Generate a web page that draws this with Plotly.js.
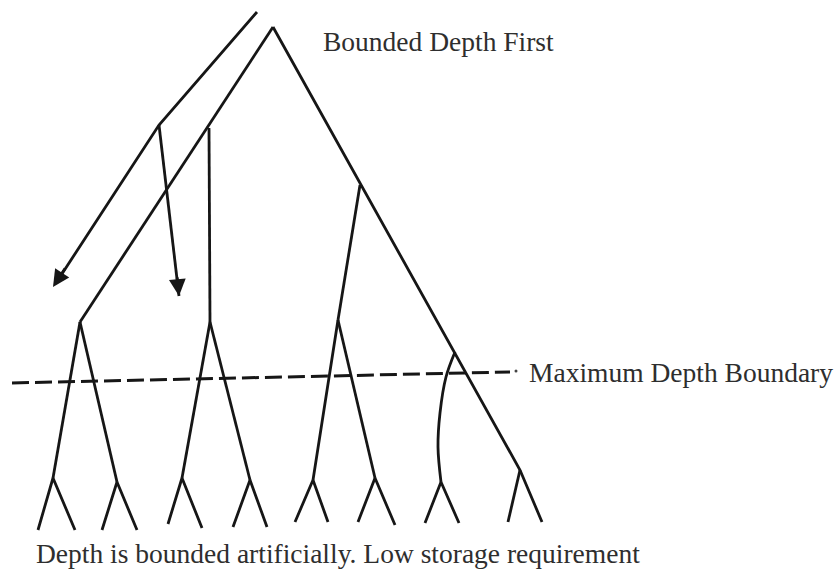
<!DOCTYPE html>
<html>
<head>
<meta charset="utf-8">
<script src="https://cdn.plot.ly/plotly-3.0.1.min.js"></script>
<style>html,body{margin:0;padding:0;background:#fff;}#chart{width:835px;height:569px;}</style>
</head>
<body>
<div id="chart"></div>
<script>
// Main trunks of the tree (pixel-like coordinates)
const trunkLeftX = [273, 80];
const trunkLeftY = [27, 322];
const trunkRightX = [273, 520, 542];
const trunkRightY = [27, 470, 522];

// Branch from left trunk (vertical) and right trunk
const branchX = [209, 210, null, 360, 338];
const branchY = [128, 322, null, 185, 320];

// Curved branch from right trunk
const curveX = [455, 446, 440, 438, 441];
const curveY = [352, 377, 413, 447, 482];

// Depth-2 nodes
const topNodeX = [80, 210, 338];
const topNodeY = [322, 322, 320];
// Depth-3 nodes and their parents (index into topNode, -1 = drawn elsewhere)
const midX = [53, 117, 182, 250, 313, 375, 441, 520];
const midY = [478, 482, 478, 480, 480, 478, 482, 470];
const midParent = [0, 0, 1, 1, 2, 2, -1, -1];
// Leaves
const leafLX = [38, 102, 168, 233, 295, 358, 425, 508];
const leafLY = [530, 530, 524, 527, 522, 522, 523, 522];
const leafRX = [75, 137, 202, 267, 328, 395, 459, 542];
const leafRY = [530, 530, 528, 527, 522, 525, 523, 522];

// Long (search-direction) arrow path: two straight segments
const longArrowX = [257, 159, 56];
const longArrowY = [12, 125, 283];
// Short arrow: from the junction on the long arrow to its tip
const shortArrowX = [159, 179];
const shortArrowY = [125, 296];
// Arrowhead tips and the point each head points from
const headTipX = [53, 179];
const headTipY = [287, 296];
const headFromX = [66, 177];
const headFromY = [267, 276];

// Maximum depth boundary (dashed)
const boundaryX = [12, 510];
const boundaryY = [383, 372];
const boundaryDotX = [516];
const boundaryDotY = [371];

// Texts
const titleText = 'Bounded Depth First';
const boundaryText = 'Maximum Depth Boundary';
const captionText = 'Depth is bounded artificially. Low storage requirement';

const lineColor = '#161616';
const lw = 2.8;

// Build sub-tree segments
const subX = [], subY = [];
midX.forEach((mx, i) => {
  const p = midParent[i];
  if (p >= 0) { subX.push(topNodeX[p], mx, null); subY.push(topNodeY[p], midY[i], null); }
  if (i !== 7) {
    subX.push(leafLX[i], mx, leafRX[i], null);
    subY.push(leafLY[i], midY[i], leafRY[i], null);
  } else {
    subX.push(leafLX[i], mx, null);
    subY.push(leafLY[i], midY[i], null);
  }
});

const traces = [
  {x: trunkLeftX, y: trunkLeftY, mode: 'lines', line: {color: lineColor, width: lw}},
  {x: trunkRightX, y: trunkRightY, mode: 'lines', line: {color: lineColor, width: lw}},
  {x: branchX, y: branchY, mode: 'lines', line: {color: lineColor, width: lw}},
  {x: curveX, y: curveY, mode: 'lines', line: {color: lineColor, width: lw, shape: 'spline'}},
  {x: subX, y: subY, mode: 'lines', line: {color: lineColor, width: lw}},
  {x: longArrowX, y: longArrowY, mode: 'lines', line: {color: lineColor, width: lw}},
  {x: shortArrowX, y: shortArrowY, mode: 'lines', line: {color: lineColor, width: lw}},
  {x: boundaryX, y: boundaryY, mode: 'lines', line: {color: lineColor, width: 3, dash: '17px,6px'}},
  {x: boundaryDotX, y: boundaryDotY, mode: 'markers', marker: {color: '#444', size: 3}}
];

const serif = '"Liberation Serif", "Times New Roman", serif';
const annotations = [];
headTipX.forEach((tx, i) => {
  annotations.push({
    x: tx, y: headTipY[i], xref: 'x', yref: 'y',
    ax: headFromX[i], ay: headFromY[i], axref: 'x', ayref: 'y',
    showarrow: true, arrowhead: 2, arrowsize: 1.2, arrowwidth: lw, arrowcolor: lineColor,
    text: ''
  });
});
const tf = {family: serif, size: 27.5, color: '#2e2e2e'};
annotations.push(
  {x: 321, y: 41, xref: 'x', yref: 'y', text: titleText, showarrow: false, xanchor: 'left', yanchor: 'middle', font: tf},
  {x: 527, y: 372, xref: 'x', yref: 'y', text: boundaryText, showarrow: false, xanchor: 'left', yanchor: 'middle', font: tf},
  {x: 34, y: 553, xref: 'x', yref: 'y', text: captionText, showarrow: false, xanchor: 'left', yanchor: 'middle', font: tf}
);

const layout = {
  width: 835, height: 569,
  margin: {l: 0, r: 0, t: 0, b: 0},
  paper_bgcolor: '#fff', plot_bgcolor: '#fff',
  showlegend: false,
  xaxis: {range: [0, 835], visible: false, fixedrange: true},
  yaxis: {range: [569, 0], visible: false, fixedrange: true},
  annotations: annotations
};

Plotly.newPlot('chart', traces, layout, {staticPlot: true, displayModeBar: false});
</script>
</body>
</html>
